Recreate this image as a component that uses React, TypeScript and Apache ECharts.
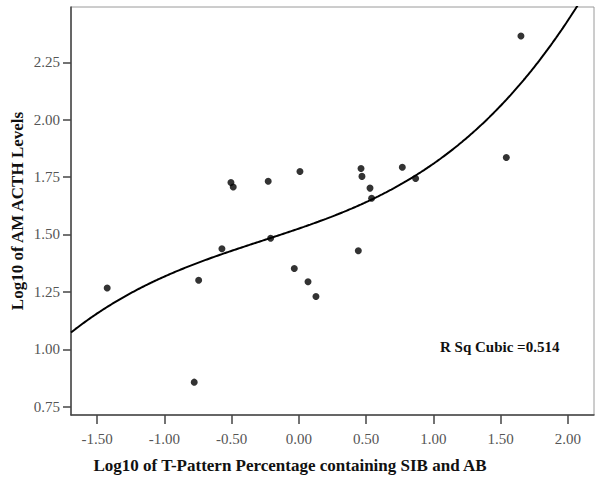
import React, { useEffect, useRef } from "react";
import * as echarts from "echarts";

const xValues = [-1.425, -0.778, -0.745, -0.572, -0.505, -0.488, -0.228, -0.21, -0.034, 0.008, 0.068, 0.127, 0.442, 0.462, 0.469, 0.529, 0.541, 0.769, 0.868, 1.542, 1.651];
const yValues = [1.267, 0.857, 1.301, 1.438, 1.726, 1.707, 1.732, 1.484, 1.352, 1.774, 1.294, 1.23, 1.429, 1.787, 1.753, 1.702, 1.658, 1.793, 1.744, 1.835, 2.364];
const xTicks = [-1.5, -1.0, -0.5, 0.0, 0.5, 1.0, 1.5, 2.0];
const yTicks = [0.75, 1.0, 1.25, 1.5, 1.75, 2.0, 2.25];
const xTitle = "Log10 of T-Pattern Percentage containing SIB and AB";
const yTitle = "Log10 of AM ACTH Levels";
const annotation = "R Sq Cubic =0.514";

function cubicFit(xs: number[], ys: number[]): number[] {
  const n = 4;
  const A: number[][] = [];
  for (let i = 0; i < n; i++) {
    const row: number[] = [];
    for (let j = 0; j < n; j++) {
      let s = 0;
      for (let k = 0; k < xs.length; k++) s += Math.pow(xs[k], i + j);
      row.push(s);
    }
    let b = 0;
    for (let k = 0; k < xs.length; k++) b += ys[k] * Math.pow(xs[k], i);
    row.push(b);
    A.push(row);
  }
  for (let c = 0; c < n; c++) {
    let p = c;
    for (let r = c + 1; r < n; r++) if (Math.abs(A[r][c]) > Math.abs(A[p][c])) p = r;
    [A[c], A[p]] = [A[p], A[c]];
    for (let r = 0; r < n; r++) {
      if (r === c) continue;
      const f = A[r][c] / A[c][c];
      for (let j = c; j <= n; j++) A[r][j] -= f * A[c][j];
    }
  }
  return A.map((row, i) => row[n] / row[i]);
}

const X_MIN = -1.694;
const X_MAX = 2.194;
const Y_MIN = 0.714;
const Y_MAX = 2.4906;

export default function App() {
  const ref = useRef<HTMLDivElement>(null);
  useEffect(() => {
    if (!ref.current) return;
    const chart = echarts.init(ref.current, undefined, { renderer: "svg" });
    const coef = cubicFit(xValues, yValues);
    const curve: number[][] = [];
    for (let i = 0; i <= 400; i++) {
      const x = X_MIN + ((X_MAX - X_MIN) * i) / 400;
      const y = coef[0] + coef[1] * x + coef[2] * x * x + coef[3] * x * x * x;
      curve.push([x, y]);
    }
    const font = "Liberation Serif";
    chart.setOption({
      animation: false,
      textStyle: { fontFamily: font },
      grid: {
        left: 71,
        right: 6,
        top: 7,
        bottom: 64,
        show: true,
        borderColor: "#9a9a9a",
        borderWidth: 1,
        backgroundColor: "#ffffff",
      },
      xAxis: {
        type: "value",
        min: X_MIN,
        max: X_MAX,
        splitLine: { show: false },
        axisLine: { show: true, onZero: false, lineStyle: { color: "#444", width: 1.5 } },
        axisTick: { show: true, length: 9, customValues: xTicks, lineStyle: { color: "#444", width: 1.5 } },
        axisLabel: {
          customValues: xTicks,
          margin: 16,
          color: "#555",
          fontFamily: font,
          fontSize: 15,
          formatter: (v: number) => v.toFixed(2),
        },
      },
      yAxis: {
        type: "value",
        min: Y_MIN,
        max: Y_MAX,
        splitLine: { show: false },
        axisLine: { show: true, onZero: false, lineStyle: { color: "#444", width: 1.5 } },
        axisTick: { show: true, length: 8, customValues: yTicks, lineStyle: { color: "#444", width: 1.5 } },
        axisLabel: {
          customValues: yTicks,
          margin: 11,
          color: "#555",
          fontFamily: font,
          fontSize: 15,
          formatter: (v: number) => v.toFixed(2),
        },
      },
      graphic: [
        {
          type: "text",
          x: 290,
          y: 465,
          style: {
            text: xTitle,
            fontFamily: font,
            fontWeight: "bold",
            fontSize: 17,
            fill: "#111",
            textAlign: "center",
            textVerticalAlign: "middle",
          },
        },
        {
          type: "text",
          x: 17,
          y: 211,
          rotation: Math.PI / 2,
          style: {
            text: yTitle,
            fontFamily: font,
            fontWeight: "bold",
            fontSize: 17,
            fill: "#111",
            textAlign: "center",
            textVerticalAlign: "middle",
          },
        },
        {
          type: "text",
          x: 440,
          y: 347,
          style: {
            text: annotation,
            fontFamily: font,
            fontWeight: "bold",
            fontSize: 15,
            fill: "#111",
            textAlign: "left",
            textVerticalAlign: "middle",
          },
        },
      ],
      series: [
        {
          type: "line",
          data: curve,
          showSymbol: false,
          symbol: "none",
          clip: true,
          lineStyle: { color: "#000", width: 2 },
          z: 2,
        },
        {
          type: "scatter",
          data: xValues.map((x, i) => [x, yValues[i]]),
          symbol: "circle",
          symbolSize: 7,
          itemStyle: { color: "#000" },
          z: 3,
        },
      ],
    });
    return () => chart.dispose();
  }, []);
  return (
    <div
      ref={ref}
      style={{ position: "absolute", left: 0, top: 0, width: 600, height: 479 }}
    />
  );
}
